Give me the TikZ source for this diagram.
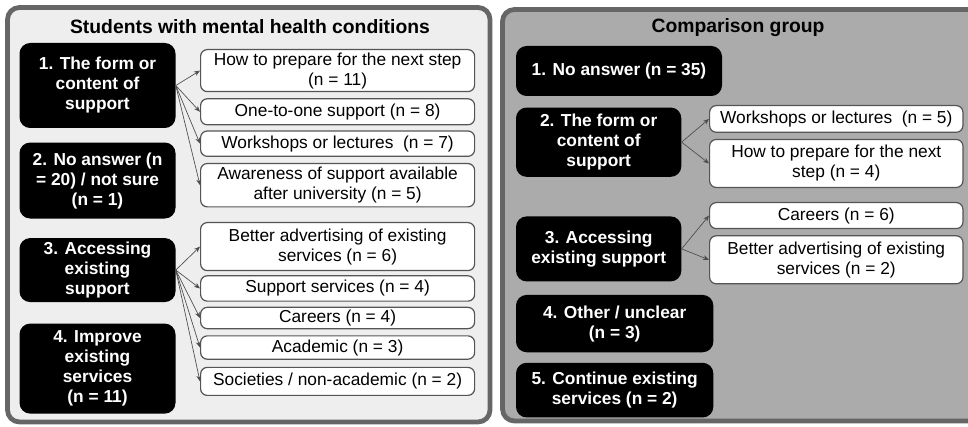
\documentclass[tikz,border=0pt]{standalone}
\usepackage{fontspec}
\setmainfont{Liberation Sans}
\usepackage{tikz}
\usetikzlibrary{arrows.meta, positioning}
\definecolor{panelline}{HTML}{666666}
\definecolor{lightpanel}{HTML}{EEEEEE}
\definecolor{darkpanel}{HTML}{ABABAB}
\definecolor{boxline}{HTML}{555555}
\newcommand\boxfont{\fontsize{13pt}{15pt}\selectfont}
\newcommand\titlefont{\fontsize{14.5pt}{17pt}\selectfont\bfseries}
\tikzstyle{arrow} = [->,>={Stealth[length=4.5pt,width=3.6pt]}, draw=black!70, line width=0.5pt]
\tikzstyle{panel} = [rounded corners=9pt, draw=panelline, line width=3.6pt]
\tikzstyle{heading} = [font=\titlefont]
\tikzstyle{theme} = [rectangle, rounded corners=8pt, fill=black, text=white, font=\boxfont\bfseries, align=center, inner sep=1pt]
\tikzstyle{answer} = [rectangle, rounded corners=5pt, draw=boxline, line width=0.9pt, fill=white, font=\boxfont, align=center, inner sep=1pt]

\begin{document}
\begin{tikzpicture}[x=0.75pt, y=-0.75pt]
%----------------------------------------------------------------------------
% Page and the two group panels
\useasboundingbox (0,0) rectangle (968,427);
\clip (0,0) rectangle (968,427);
\draw [panel, fill=lightpanel] (7.5,7.5) rectangle (490,422);
\draw [panel, fill=darkpanel] (502.5,9.5) rectangle (990,421);

\node (leftTitle) [heading] at (250,27) {Students with mental health conditions};
\node (rightTitle) [heading] at (738,28) {Comparison group};

%----------------------------------------------------------------------------
% Students with mental health conditions: themes
\node (formL) [theme, minimum width=117pt, minimum height=63.75pt] at (97.5,85.5) {1. The form or\\content of\\support};
\node (noAnswerL) [theme, minimum width=117pt, minimum height=57pt, below=10.5pt of formL] {2. No answer (n\\= 20) / not sure\\(n = 1)};
\node (accessL) [theme, minimum width=117pt, minimum height=48pt, below=14.25pt of noAnswerL] {3. Accessing\\existing\\support};
\node (improveL) [theme, minimum width=117pt, minimum height=67.5pt, below=15.75pt of accessL] {4. Improve\\existing\\services\\(n = 11)};

% Students with mental health conditions: sub-themes
\node (prepareL) [answer, minimum width=205.5pt, minimum height=31.5pt, anchor=north west] at (200,49) {How to prepare for the next step\\(n = 11)};
\node (oneToOneL) [answer, minimum width=205.5pt, minimum height=19.5pt, below=4.5pt of prepareL] {One-to-one support (n = 8)};
\node (workshopsL) [answer, minimum width=205.5pt, minimum height=19pt, below=3.75pt of oneToOneL] {Workshops or lectures~ (n = 7)};
\node (awarenessL) [answer, minimum width=205.5pt, minimum height=32.5pt, below=4.5pt of workshopsL] {Awareness of support available\\after university (n = 5)};

\node (advertL) [answer, minimum width=205.5pt, minimum height=36pt, anchor=north west] at (200,222) {Better advertising of existing\\services (n = 6)};
\node (servicesL) [answer, minimum width=205.5pt, minimum height=19pt, below=3pt of advertL] {Support services (n = 4)};
\node (careersL) [answer, minimum width=205.5pt, minimum height=16pt, below=3.75pt of servicesL] {Careers (n = 4)};
\node (academicL) [answer, minimum width=205.5pt, minimum height=17.5pt, below=4.5pt of careersL] {Academic (n = 3)};
\node (societiesL) [answer, minimum width=205.5pt, minimum height=21pt, below=5.25pt of academicL] {Societies / non-academic (n = 2)};

%----------------------------------------------------------------------------
% Comparison group: themes
\node (noAnswerR) [theme, minimum width=154.5pt, minimum height=37.5pt] at (619,71) {1. No answer (n = 35)};
\node (formR) [theme, minimum width=124pt, minimum height=52pt, below=8.25pt of noAnswerR.south west, anchor=north west] {2. The form or\\content of\\support};
\node (accessR) [theme, minimum width=124pt, minimum height=48.75pt, below=29.25pt of formR.south west, anchor=north west] {3. Accessing\\existing support};
\node (otherR) [theme, minimum width=148pt, minimum height=43pt, below=9.75pt of accessR.south west, anchor=north west] {4. Other / unclear\\(n = 3)};
\node (continueR) [theme, minimum width=148pt, minimum height=41pt, below=7.5pt of otherR.south west, anchor=north west] {5. Continue existing\\services (n = 2)};

% Comparison group: sub-themes
\node (workshopsR) [answer, minimum width=190pt, minimum height=20pt, anchor=north west] at (709,105) {Workshops or lectures~ (n = 5)};
\node (prepareR) [answer, minimum width=190pt, minimum height=36pt, below=4.5pt of workshopsR] {How to prepare for the next\\step (n = 4)};
\node (careersR) [answer, minimum width=190pt, minimum height=19.5pt, anchor=north west] at (709,202) {Careers (n = 6)};
\node (advertR) [answer, minimum width=190pt, minimum height=36pt, below=4.5pt of careersR] {Better advertising of existing\\services (n = 2)};

%----------------------------------------------------------------------------
% Draw lines
\draw [arrow] (formL.east) -- (prepareL.west);
\draw [arrow] (formL.east) -- (oneToOneL.west);
\draw [arrow] (formL.east) -- (workshopsL.west);
\draw [arrow] (formL.east) -- (awarenessL.west);

\draw [arrow] (accessL.east) -- (advertL.west);
\draw [arrow] (accessL.east) -- (servicesL.west);
\draw [arrow] (accessL.east) -- (careersL.west);
\draw [arrow] (accessL.east) -- (academicL.west);
\draw [arrow] (accessL.east) -- (societiesL.west);

\draw [arrow] (formR.east) -- (workshopsR.west);
\draw [arrow] (formR.east) -- (prepareR.west);
\draw [arrow] (accessR.east) -- (careersR.west);
\draw [arrow] (accessR.east) -- (advertR.west);

\end{tikzpicture}
\end{document}
